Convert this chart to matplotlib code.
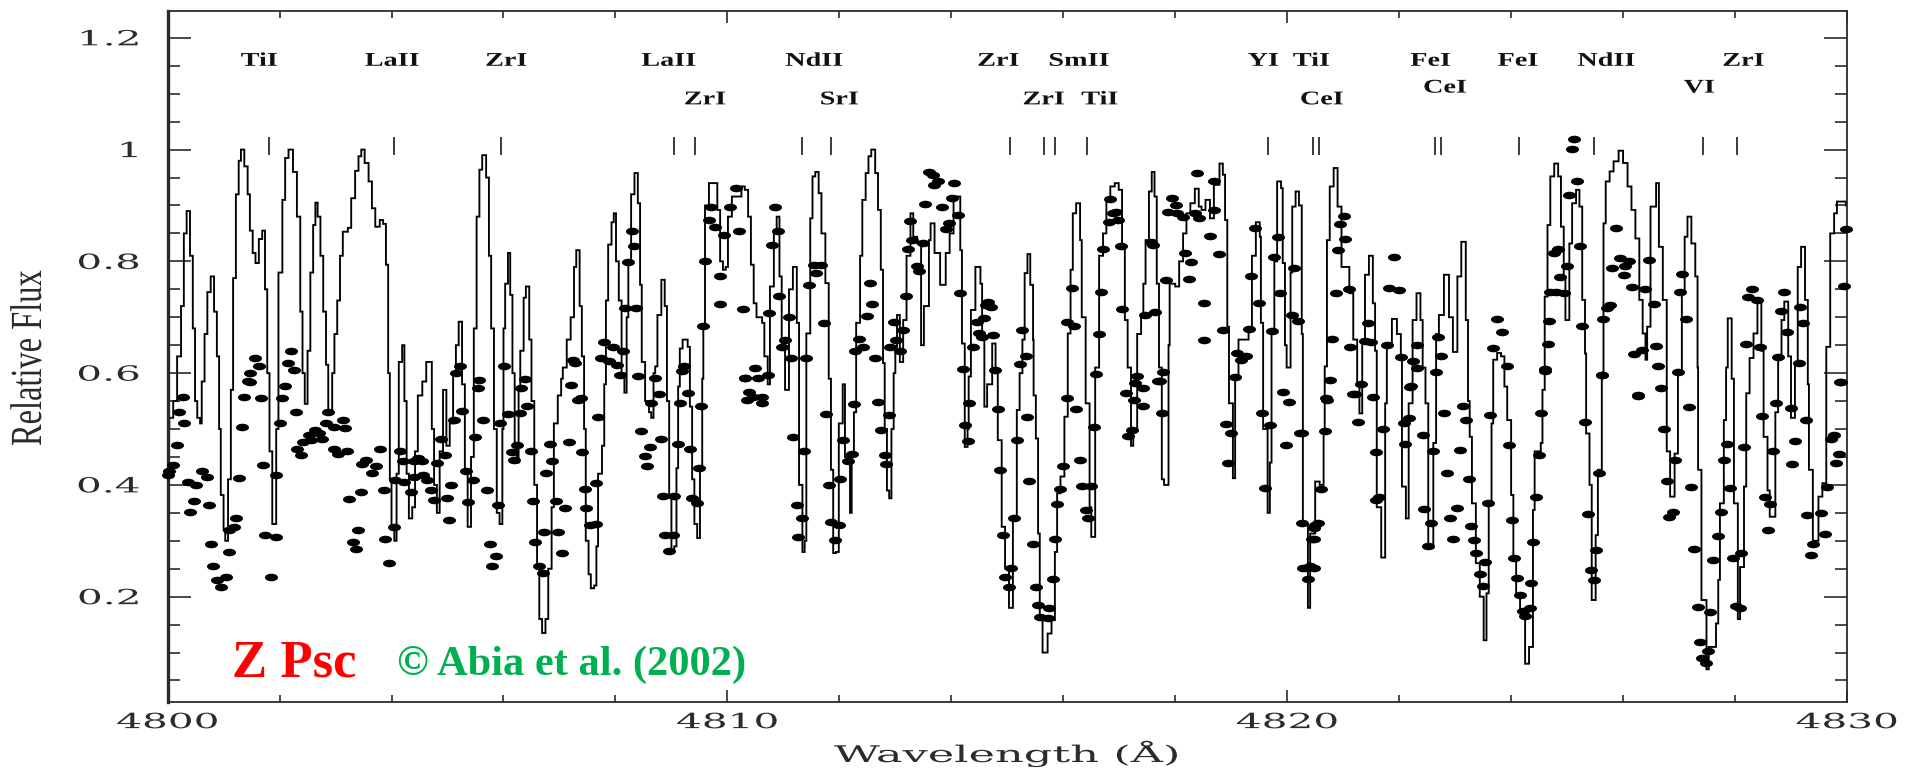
import matplotlib
matplotlib.use("Agg")
import matplotlib.pyplot as plt
from matplotlib.markers import MarkerStyle
from matplotlib.patheffects import AbstractPathEffect
from matplotlib.ticker import MultipleLocator
from matplotlib.transforms import Affine2D

WAVE_ZERO = 4800

# (wavelength - 4800, flux)
spec_a = [
    (0.00, .50), (.03, .52), (.10, .55), (.17, .63), (.24, .72), (.29, .85), (.34, .89), (.40, .81), (.45, .68),
    (.49, .55), (.53, .52), (.58, .51), (.61, .585), (.66, .67), (.71, .745), (.77, .773), (.83, .71), (.88, .63),
    (.92, .50), (.95, .382), (1.00, .32), (1.03, .30), (1.08, .41), (1.13, .57), (1.17, .77), (1.22, .92), (1.27, .98),
    (1.31, 1.0), (1.37, .97), (1.43, .92), (1.47, .855), (1.52, .815), (1.57, .797), (1.63, .84), (1.69, .855),
    (1.74, .75), (1.78, .60), (1.82, .46), (1.87, .33), (1.90, .33), (1.94, .50), (1.98, .78), (2.05, .91), (2.10, .985),
    (2.16, 1.0), (2.24, .96), (2.31, .88), (2.37, .71), (2.41, .60), (2.45, .545), (2.50, .64), (2.55, .78), (2.60, .865),
    (2.64, .905), (2.68, .88), (2.73, .81), (2.78, .71), (2.83, .615), (2.87, .53), (2.90, .53), (2.94, .60), (2.98, .67),
    (3.03, .73), (3.08, .81), (3.13, .853), (3.22, .86), (3.28, .913), (3.35, .962), (3.41, .988), (3.46, 1.0), (3.52, .976),
    (3.59, .943), (3.65, .895), (3.71, .862), (3.79, .874), (3.85, .867), (3.90, .794), (3.94, .60), (3.97, .41), (4.00, .32),
    (4.05, .30), (4.09, .42), (4.13, .62), (4.19, .65), (4.23, .55), (4.27, .42), (4.31, .34), (4.37, .36), (4.42, .46),
    (4.47, .56), (4.55, .585), (4.62, .62), (4.67, .62), (4.72, .50), (4.76, .40), (4.81, .35), (4.86, .46), (4.92, .57),
    (4.98, .47), (5.04, .51), (5.10, .60), (5.15, .65), (5.20, .692), (5.26, .58), (5.31, .42), (5.36, .325), (5.42, .45),
    (5.47, .68), (5.52, .88), (5.57, .964), (5.62, .99), (5.69, .95), (5.74, .81), (5.78, .68), (5.83, .50), (5.88, .35),
    (5.93, .33), (5.98, .50), (6.00, .68), (6.03, .76), (6.08, .815), (6.12, .74), (6.16, .60), (6.20, .47), (6.24, .44),
    (6.27, .57), (6.30, .64), (6.36, .735), (6.40, .755), (6.46, .66), (6.50, .55), (6.55, .40), (6.60, .25), (6.64, .16),
    (6.69, .135), (6.75, .16), (6.80, .25), (6.86, .36), (6.90, .51), (6.97, .56), (7.03, .59), (7.06, .61), (7.13, .66),
    (7.20, .70), (7.26, .79), (7.30, .82), (7.36, .72), (7.40, .63), (7.44, .50), (7.47, .30), (7.52, .24), (7.56, .215),
    (7.62, .22), (7.66, .29), (7.69, .42), (7.76, .47), (7.80, .58), (7.83, .73), (7.87, .83), (7.93, .87), (7.97, .886),
    (8.01, .80), (8.06, .73), (8.11, .60), (8.16, .565), (8.20, .70), (8.23, .80), (8.28, .92), (8.34, .958), (8.40, .904),
    (8.44, .758), (8.47, .62), (8.53, .55), (8.60, .53), (8.64, .52), (8.68, .60), (8.71, .612), (8.75, .704), (8.82, .767),
    (8.88, .72), (8.92, .55), (8.96, .38), (9.00, .28), (9.05, .29), (9.09, .43), (9.12, .576), (9.15, .644), (9.20, .66),
    (9.29, .647), (9.33, .54), (9.37, .41), (9.41, .33), (9.46, .305), (9.51, .43), (9.55, .59), (9.57, .686), (9.60, .90),
    (9.67, .94), (9.78, .94), (9.82, .892), (9.87, .80), (9.92, .785), (9.97, .79),
]
spec_b = [
    (10.01, .88), (10.08, .916), (10.25, .934), (10.31, .928), (10.37, .88), (10.42, .794), (10.47, .725), (10.52, .70),
    (10.62, .69), (10.66, .63), (10.72, .58), (10.76, .755), (10.83, .856), (10.88, .88), (10.93, .773), (10.97, .65),
    (11.03, .57), (11.10, .75), (11.17, .79), (11.24, .69), (11.28, .40), (11.34, .28), (11.38, .30), (11.41, .671),
    (11.48, .877), (11.52, .952), (11.57, .96), (11.63, .922), (11.68, .85), (11.75, .761), (11.81, .59), (11.85, .427),
    (11.89, .278), (11.94, .28), (11.99, .51), (12.06, .58), (12.10, .45), (12.19, .35), (12.22, .45), (12.26, .53),
    (12.30, .69), (12.37, .81), (12.41, .91), (12.47, .958), (12.52, .988), (12.57, 1.0), (12.64, .958), (12.69, .892),
    (12.74, .785), (12.78, .618), (12.81, .50), (12.85, .39), (12.89, .376), (12.93, .50), (12.97, .60), (13.00, .647),
    (13.03, .704), (13.08, .62),
    (13.14, .695), (13.20, .81), (13.27, .886), (13.32, .844), (13.39, .832), (13.46, .65), (13.51, .72), (13.60, .838),
    (13.63, .868), (13.70, .815), (13.80, .758), (13.90, .815), (13.97, .85), (14.04, .916), (14.11, .916), (14.16, .82),
    (14.19, .653), (14.24, .468), (14.29, .50), (14.31, .594), (14.35, .713), (14.43, .79), (14.52, .76), (14.55, .67),
    (14.59, .54), (14.64, .58), (14.73, .653), (14.79, .60), (14.83, .48), (14.90, .325), (14.96, .25), (15.03, .18),
    (15.10, .34), (15.17, .534), (15.22, .60), (15.27, .66), (15.31, .779), (15.36, .813), (15.41, .758), (15.46, .66),
    (15.47, .56), (15.51, .483), (15.55, .313), (15.58, .158), (15.63, .10), (15.72, .134), (15.79, .158), (15.85, .28),
    (15.89, .385), (15.95, .415), (16.02, .522), (16.08, .671), (16.13, .785), (16.17, .886), (16.23, .904), (16.30, .838),
    (16.33, .70), (16.40, .546), (16.47, .36), (16.50, .307), (16.57, .61), (16.64, .81), (16.71, .85), (16.77, .91),
    (16.84, .934), (16.92, .94), (16.99, .928), (17.05, .826), (17.10, .695), (17.15, .61), (17.21, .47), (17.25, .50),
    (17.32, .67), (17.39, .70), (17.43, .76), (17.47, .838), (17.53, .925), (17.58, .96), (17.63, .916), (17.67, .76),
    (17.71, .61), (17.76, .41), (17.80, .40), (17.88, .65), (17.90, .76), (18.00, .755), (18.07, .80), (18.14, .85),
    (18.20, .886), (18.27, .904), (18.35, .93), (18.42, .898), (18.47, .892), (18.54, .91), (18.62, .877), (18.69, .937),
    (18.79, .975), (18.85, .955), (18.89, .874), (18.93, .683), (18.96, .546), (19.03, .412), (19.07, .594), (19.13, .66),
    (19.31, .677), (19.37, .81), (19.44, .87), (19.51, .844), (19.53, .69), (19.57, .50), (19.65, .35), (19.69, .44),
    (19.72, .67), (19.77, .80), (19.82, .943), (19.89, .931), (19.92, .797), (19.96, .65), (19.99, .61),
]
spec_c = [
    (20.06, .78), (20.09, .898), (20.15, .925), (20.21, .90), (20.26, .67), (20.28, .33), (20.37, .18), (20.41, .313),
    (20.50, .406), (20.58, .40), (20.65, .50), (20.67, .612), (20.71, .838), (20.76, .934), (20.83, .967), (20.90, .898),
    (20.97, .79), (21.11, .743), (21.18, .66), (21.25, .58), (21.29, .528), (21.34, .66), (21.39, .776), (21.46, .81),
    (21.53, .725), (21.57, .64), (21.60, .36), (21.68, .27), (21.75, .546), (21.78, .654), (21.87, .697), (21.96, .67),
    (22.03, .63), (22.05, .397), (22.12, .34), (22.17, .546), (22.24, .695), (22.31, .743), (22.38, .695), (22.42, .61),
    (22.47, .546), (22.52, .287), (22.61, .475), (22.66, .67), (22.71, .704), (22.80, .776), (22.89, .70), (22.96, .638),
    (23.04, .773), (23.11, .835), (23.19, .695), (23.23, .55), (23.26, .486), (23.30, .367), (23.37, .26), (23.44, .20),
    (23.51, .122), (23.56, .206), (23.60, .367), (23.65, .51), (23.68, .624), (23.75, .636), (23.82, .63), (23.88, .576),
    (23.93, .516), (24.00, .382), (24.04, .27), (24.09, .20), (24.16, .176), (24.25, .08), (24.32, .11), (24.39, .355),
    (24.42, .46), (24.53, .475), (24.56, .57), (24.60, .737), (24.65, .865), (24.70, .952), (24.77, .975), (24.84, .952),
    (24.89, .862), (24.94, .773), (24.97, .695), (25.04, .832), (25.09, .904), (25.16, .928), (25.22, .898), (25.27, .731),
    (25.32, .635), (25.34, .492), (25.40, .40), (25.44, .194), (25.51, .31), (25.55, .427), (25.62, .60), (25.65, .868),
    (25.69, .943), (25.76, .961), (25.83, .979), (25.92, .998), (26.00, .976), (26.08, .934), (26.15, .892), (26.22, .841),
    (26.29, .731), (26.35, .671), (26.40, .624), (26.43, .683), (26.49, .898), (26.59, .94), (26.64, .826), (26.71, .731),
    (26.78, .46), (26.84, .379), (26.92, .456), (26.98, .60), (27.05, .746), (27.10, .844), (27.15, .88), (27.22, .832),
    (27.29, .773), (27.33, .61), (27.34, .427), (27.40, .194), (27.49, .07), (27.53, .11), (27.63, .11), (27.66, .152),
    (27.70, .23),
    (27.73, .367), (27.80, .516), (27.84, .61), (27.87, .698), (27.94, .59), (27.98, .367), (28.05, .16), (28.09, .253),
    (28.16, .397), (28.20, .564), (28.26, .627), (28.33, .671), (28.40, .731), (28.47, .64), (28.51, .486), (28.58, .39),
    (28.62, .343), (28.72, .53), (28.77, .63), (28.83, .695), (28.88, .728), (28.95, .63), (29.00, .52), (29.07, .618),
    (29.12, .79), (29.18, .826), (29.25, .731), (29.30, .58), (29.32, .427), (29.39, .30), (29.49, .379), (29.56, .403),
    (29.63, .647), (29.70, .85), (29.77, .886), (29.82, .907), (29.98, .90),
]

dots_a = [
    (.267, .558), (.199, .530), (.30, .511), (.165, .472), (.096, .436), (0.0, .418), (.03, .425), (.37, .406), (.506, .400),
    (.61, .424), (.712, .414), (.472, .372), (.404, .351), (.746, .364), (.78, .295), (.814, .255), (.88, .229), (1.05, .236),
    (.95, .218), (1.088, .280), (1.22, .340), (1.19, .325), (1.088, .319), (1.27, .412), (1.327, .504), (1.36, .558),
    (1.464, .585), (1.43, .586), (1.48, .601), (1.566, .627), (1.635, .613), (1.669, .555), (1.70, .436), (1.737, .310),
    (1.94, .307), (1.84, .236), (1.94, .418), (2.01, .510), (2.045, .555), (2.093, .577), (2.25, .606), (2.147, .618),
    (2.202, .640), (2.285, .531), (2.32, .465), (2.387, .453), (2.42, .477), (2.52, .489), (2.63, .498), (2.70, .492),
    (2.56, .480), (2.76, .482), (2.87, .530), (2.83, .510), (2.97, .504), (3.14, .517), (3.17, .501), (2.97, .465),
    (3.04, .455), (3.21, .460), (3.55, .445), (3.48, .437), (3.72, .433), (3.65, .421), (3.79, .465), (3.45, .387),
    (3.24, .375), (3.86, .390), (3.41, .319), (3.31, .298), (3.37, .286), (3.89, .304), (3.96, .260), (4.04, .325),
    (4.06, .409), (4.23, .406), (4.16, .460), (4.20, .442), (4.40, .442), (4.47, .448), (4.54, .442), (4.40, .415),
    (4.57, .418), (4.64, .409), (4.34, .388), (4.71, .391), (4.75, .373), (4.99, .377), (4.81, .439), (4.95, .453),
    (4.88, .482), (5.07, .399), (5.02, .338), (5.12, .517), (5.26, .532), (5.156, .601), (5.225, .613), (5.50, .485),
    (5.33, .425), (5.46, .409), (5.36, .370), (5.70, .391), (5.91, .364), (5.76, .295), (5.87, .272), (5.79, .254),
    (5.64, .516), (5.94, .510), (5.57, .588), (5.55, .573), (6.08, .526), (6.29, .528), (6.42, .542), (6.32, .573),
    (6.39, .589), (6.01, .612), (6.25, .472), (6.15, .458), (6.18, .445), (6.49, .460), (6.76, .421), (6.52, .371),
    (6.93, .371), (7.10, .358), (6.56, .298), (6.73, .315), (6.97, .315), (7.04, .278), (6.63, .254), (6.70, .242),
    (6.83, .473), (6.87, .442), (7.17, .476), (7.41, .459), (7.34, .552), (7.21, .579), (7.24, .624), (7.275, .618),
    (7.38, .555), (7.69, .522), (7.45, .393), (7.65, .403), (7.48, .358), (7.55, .328), (7.65, .330), (7.79, .655),
    (7.96, .646), (8.14, .640), (7.75, .627), (7.89, .621), (8.03, .615), (8.08, .597), (8.40, .594), (8.71, .591),
    (8.78, .563), (8.64, .546), (8.46, .497), (8.61, .468), (8.53, .451), (8.56, .433), (8.81, .483), (8.85, .380),
    (9.05, .380), (8.88, .310), (9.02, .310), (8.95, .282), (9.16, .546), (9.12, .474), (9.33, .465), (9.29, .564),
    (9.22, .613), (9.19, .603), (9.53, .542), (9.50, .430), (9.36, .376), (9.46, .368), (8.29, .855), (8.34, .828),
    (8.22, .798), (8.17, .716), (8.37, .716), (9.70, .898), (9.67, .874), (9.77, .862), (9.60, .801), (9.94, .847),
    (9.87, .773), (9.87, .723), (9.57, .684),
]
dots_b = [
    (10.05, .898), (10.21, .855), (10.15, .931), (10.27, .714), (10.32, .592), (10.35, .552), (10.85, .898), (10.90, .855),
    (10.79, .829), (10.93, .738), (10.75, .708), (11.10, .700), (11.03, .659), (10.98, .647), (11.14, .627), (11.41, .627),
    (10.49, .610), (10.31, .591), (10.55, .591), (10.72, .597), (10.38, .567), (10.45, .558), (10.62, .558), (10.62, .546),
    (11.46, .758), (11.54, .794), (11.68, .794), (11.58, .779), (11.72, .690), (12.55, .761), (12.59, .724), (12.50, .703),
    (12.35, .661), (12.43, .647), (12.28, .640), (12.64, .627), (12.98, .691), (13.14, .677), (13.02, .659), (12.91, .647),
    (13.08, .640), (13.60, .960), (13.67, .955), (13.77, .943), (13.69, .936), (14.04, .940), (13.53, .903), (13.84, .898),
    (14.01, .914), (14.12, .883), (13.95, .869), (13.90, .858), (13.27, .873), (13.22, .822), (13.29, .838), (13.49, .832),
    (13.39, .792), (13.43, .782), (13.19, .738), (14.16, .743), (14.21, .607), (14.66, .728), (14.62, .722), (14.71, .718),
    (14.45, .692), (14.59, .698), (14.49, .671), (14.55, .665), (14.74, .668), (14.38, .647), (14.78, .605), (15.27, .677),
    (15.22, .616), (15.34, .631), (16.15, .752), (16.06, .691), (16.19, .684), (16.67, .746), (16.71, .823), (17.04, .828),
    (17.05, .714), (16.64, .670), (16.58, .599), (16.06, .555), (16.84, .911), (16.88, .886), (16.81, .871), (16.95, .889),
    (16.98, .874), (17.60, .829), (17.56, .835), (17.46, .704), (17.63, .710), (17.32, .594), (17.29, .582), (17.43, .573),
    (17.12, .564), (17.72, .586), (17.79, .602), (17.84, .766), (18.25, .768), (18.28, .798), (18.18, .815), (18.62, .846),
    (18.79, .813), (18.69, .892), (18.42, .877), (18.38, .959), (18.69, .944), (17.94, .914), (18.01, .901), (17.87, .889),
    (18.04, .886), (18.14, .880), (18.35, .886), (18.52, .659), (18.52, .725), (18.86, .677), (19.07, .593), (19.10, .636),
    (19.17, .624), (19.27, .630), (19.31, .679), (19.43, .860), (19.36, .773), (19.50, .725), (19.72, .676), (19.84, .843),
    (19.77, .807), (19.87, .743), (20.13, .788), (20.09, .704), (20.19, .694), (19.92, .567),
    (11.17, .485), (11.37, .461), (11.24, .364), (11.34, .341), (11.27, .307), (11.77, .526), (12.06, .480), (12.23, .456),
    (12.16, .442), (12.02, .411), (11.82, .400), (11.85, .334), (11.99, .328), (11.92, .301), (12.26, .545), (12.69, .548),
    (12.88, .525), (12.74, .498), (12.81, .454), (12.84, .437), (14.25, .507), (14.31, .546), (14.30, .479), (14.83, .535),
    (15.17, .480), (14.87, .427), (15.12, .341), (14.92, .310), (15.07, .251), (14.96, .236), (15.03, .217), (15.36, .522),
    (15.39, .407), (16.23, .536), (16.54, .503), (16.0, .433), (15.94, .393), (15.89, .365), (15.85, .304), (15.46, .294),
    (15.51, .218), (15.81, .231), (15.55, .185), (15.75, .180), (15.58, .164), (15.72, .161), (16.30, .445), (16.33, .398),
    (16.50, .398), (16.40, .355), (16.45, .340), (17.26, .552), (17.43, .541), (17.22, .498), (17.15, .488), (17.77, .528),
    (17.70, .586), (18.90, .509), (19.0, .492), (18.95, .439), (19.55, .529), (19.70, .507), (19.61, .395), (20.04, .548),
    (20.23, .493), (19.98, .471),
]
dots_c = [
    (20.26, .332), (20.47, .304), (20.33, .251), (20.47, .252), (20.37, .231), (20.50, .328), (21.01, .881), (20.94, .867),
    (21.04, .840), (20.90, .820), (20.87, .743), (21.11, .750), (20.80, .661), (21.13, .647), (20.76, .588), (20.69, .555),
    (21.90, .807), (21.82, .752), (21.99, .749), (21.44, .690), (21.39, .658), (21.50, .656), (21.78, .650), (22.31, .650),
    (22.70, .665), (22.75, .631), (22.66, .602), (22.03, .628), (22.24, .621), (22.31, .609), (21.32, .580), (21.22, .562),
    (21.53, .558), (22.2, .576), (23.75, .697), (23.84, .673), (23.67, .645), (23.92, .612), (24.68, .693), (24.65, .653),
    (24.60, .607), (25.13, 1.019), (25.08, 1.001), (25.18, .944), (25.03, .918), (24.84, .823), (24.77, .815), (25.23, .828),
    (24.99, .792), (24.88, .772), (24.70, .745), (24.95, .743), (24.81, .745), (25.27, .684), (25.87, .860), (25.95, .806),
    (26.11, .800), (25.80, .788), (26.04, .791), (26.01, .775), (26.47, .803), (26.16, .755), (26.40, .750), (26.55, .724),
    (25.76, .722), (25.71, .716), (25.65, .696), (25.62, .596), (26.20, .634), (26.34, .642), (26.59, .649), (26.63, .612),
    (26.68, .573), (26.27, .560), (27.06, .777), (27.01, .745), (27.13, .696), (26.98, .602), (28.31, .750), (28.23, .737),
    (28.40, .731), (28.19, .652), (28.44, .647), (28.87, .745), (28.82, .711), (28.93, .673), (28.77, .628), (29.16, .719),
    (29.21, .690), (29.14, .618), (29.99, .858), (29.95, .756), (29.89, .585),
    (20.71, .552), (20.67, .497), (20.27, .492), (20.6, .393), (20.55, .331), (20.48, .322), (20.44, .304), (20.41, .254),
    (20.29, .251), (21.18, .562), (21.27, .513), (21.72, .500), (21.58, .458), (21.64, .379), (21.58, .373), (22.22, .577),
    (22.17, .519), (22.08, .511), (22.10, .474), (22.42, .489), (22.80, .529), (22.61, .461), (23.09, .462), (22.85, .422),
    (23.04, .359), (22.90, .340), (22.96, .303), (22.45, .357), (22.56, .331), (22.51, .291), (23.14, .542), (23.19, .516),
    (23.24, .410), (23.63, .525), (23.58, .368), (23.28, .327), (23.33, .301), (23.38, .279), (23.53, .262), (23.44, .240),
    (23.49, .219), (23.96, .471), (24.49, .453), (24.54, .528), (24.61, .604), (24.44, .379), (24.01, .337), (24.39, .297),
    (24.06, .269), (24.10, .234), (24.35, .224), (24.15, .203), (24.33, .179), (24.21, .175), (24.25, .165), (25.62, .597),
    (25.32, .513), (25.57, .422), (25.37, .348), (25.51, .283), (25.42, .248), (25.48, .229), (26.27, .559), (26.73, .500),
    (26.92, .445), (26.78, .407), (27.22, .396), (26.89, .352), (26.82, .343), (27.26, .285), (27.17, .540), (27.33, .182),
    (27.56, .172), (27.38, .118), (27.52, .103), (27.41, .090), (27.49, .081), (27.70, .309), (27.61, .266), (27.75, .352),
    (27.91, .394), (27.80, .445), (27.85, .474), (28.16, .468), (28.11, .278), (27.96, .269), (28.01, .183), (28.08, .180),
    (28.49, .524), (28.73, .546), (28.67, .461), (28.54, .379), (28.63, .365), (28.59, .320), (29.0, .537), (29.07, .479),
    (29.01, .437), (29.26, .516), (29.64, .397), (29.28, .346), (29.53, .350), (29.60, .313), (29.39, .295), (29.35, .275),
    (29.71, .483), (29.76, .489), (29.85, .456), (29.80, .440), (29.88, .585),
]

# line identifications: name, wavelength - 4800, height of label
line_names = ["TiI", "LaII", "ZrI", "LaII", "ZrI", "NdII", "SrI", "ZrI", "SmII", "ZrI", "TiI",
              "YI", "TiI", "CeI", "FeI", "CeI", "FeI", "NdII", "ZrI", "VI"]
line_label_x = [1.635, 4.01, 6.05, 8.95, 9.60, 11.55, 12.0, 14.84, 16.28, 15.65, 16.65,
                19.57, 20.43, 20.62, 22.56, 22.82, 24.12, 25.70, 28.15, 27.36]
line_label_y = [1.158, 1.158, 1.158, 1.158, 1.089, 1.158, 1.089, 1.158, 1.158, 1.089, 1.089,
                1.158, 1.158, 1.089, 1.158, 1.110, 1.158, 1.158, 1.158, 1.110]
line_marks = [1.82, 4.04, 5.96, 9.05, 9.43, 11.33, 11.85, 15.05, 15.65, 15.85, 16.43, 19.65,
              20.46, 20.57, 22.64, 22.75, 24.14, 25.48, 27.43, 28.04]

x_ticks = [4800, 4810, 4820, 4830]
y_ticks = [0.2, 0.4, 0.6, 0.8, 1.0, 1.2]
y_tick_labels = ["0.2", "0.4", "0.6", "0.8", "1", "1.2"]

spectrum = sorted(spec_a + spec_b + spec_c)
dots = dots_a + dots_b + dots_c
TICK_FONT = "DejaVu Serif"
INK = "#2b2b2b"


class Stretch(AbstractPathEffect):
    # the old plot fonts are much wider than anything installed
    def __init__(self, factor, anchor=0.5):
        super().__init__()
        self.factor = factor
        self.anchor = anchor

    def draw_path(self, renderer, gc, tpath, affine, rgbFace=None):
        box = tpath.get_extents()
        cx = box.x0 + self.anchor * box.width
        wide = Affine2D().translate(-cx, 0).scale(self.factor, 1).translate(cx, 0)
        renderer.draw_path(gc, tpath, wide + affine, rgbFace)


fig = plt.figure(figsize=(19.18, 7.69), dpi=100)
ax = fig.add_axes([167.6 / 1918, 67 / 769, 1679.4 / 1918, 691 / 769])

ax.plot([WAVE_ZERO + p[0] for p in spectrum], [p[1] for p in spectrum],
        drawstyle="steps-post", color="black", lw=1.35, solid_joinstyle="miter")

oval = MarkerStyle("o", transform=Affine2D().scale(1.0, 0.58))
ax.plot([WAVE_ZERO + p[0] for p in dots], [p[1] for p in dots], ls="none", marker=oval,
        ms=9.4, mfc="black", mec="none", clip_on=False, zorder=3)

ax.vlines([WAVE_ZERO + m for m in line_marks], 0.991, 1.023, color=INK, lw=1.3)
for name, lx, ly in zip(line_names, line_label_x, line_label_y):
    ax.text(WAVE_ZERO + lx, ly, name, ha="center", va="center", family="Liberation Serif",
            weight="bold", fontsize=14, color="#111111", path_effects=[Stretch(1.45)])

ax.set_xlim(4800, 4830)
ax.set_ylim(0.0115, 1.248)
ax.set_xticks(x_ticks)
ax.set_yticks(y_ticks)
ax.set_yticklabels(y_tick_labels)
ax.xaxis.set_minor_locator(MultipleLocator(2))
ax.yaxis.set_minor_locator(MultipleLocator(0.05))
ax.tick_params(axis="x", which="major", direction="in", top=True, length=8.6, width=1.2, color=INK, pad=8)
ax.tick_params(axis="x", which="minor", direction="in", top=True, length=5, width=1.2, color=INK)
ax.tick_params(axis="y", which="major", direction="in", right=True, length=16.5, width=1.2, color=INK, pad=20)
ax.tick_params(axis="y", which="minor", direction="in", right=True, length=8.6, width=1.2, color=INK)
for lab in ax.get_xticklabels():
    lab.set_family(TICK_FONT)
    lab.set_fontsize(15)
    lab.set_color(INK)
    lab.set_path_effects([Stretch(1.95)])
for lab in ax.get_yticklabels():
    lab.set_family(TICK_FONT)
    lab.set_fontsize(15)
    lab.set_color(INK)
    lab.set_path_effects([Stretch(1.95, anchor=1.0)])

for side in ax.spines.values():
    side.set_linewidth(1.3)
    side.set_color(INK)
ax.spines["left"].set_linewidth(2.4)

fig.text(1006 / 1918, 1 - 762 / 769, "Wavelength (Å)", ha="center", va="baseline",
         family=TICK_FONT, fontsize=16.5, color=INK, path_effects=[Stretch(1.95)])
fig.text(30 / 1918, 1 - 358 / 769, "Relative Flux", rotation=90, ha="center", va="center",
         family="Liberation Serif", fontsize=32, color=INK, path_effects=[Stretch(0.73)])

ax.text(WAVE_ZERO + 1.156, 0.058, "Z Psc", color="#ff0000", family="Liberation Serif",
        weight="bold", fontsize=38, va="baseline")
ax.text(WAVE_ZERO + 4.096, 0.06, "© Abia et al. (2002)", color="#00b050", family="Liberation Serif",
        weight="bold", fontsize=30.6, va="baseline")

fig.savefig("out.png", dpi=100)
